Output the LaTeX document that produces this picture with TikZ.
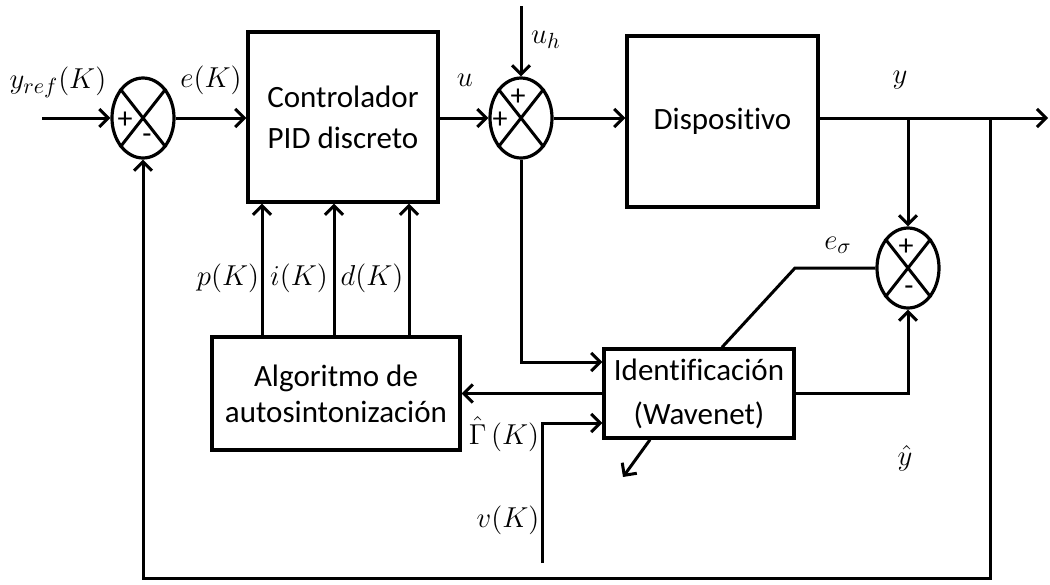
\documentclass[tikz,border=0pt]{standalone}
\usepackage{fontspec}
\setmainfont{Carlito}[Ligatures=NoCommon]
\usetikzlibrary{arrows.meta,shapes.geometric,calc}

\begin{document}
\begin{tikzpicture}[x=0.5pt,y=-0.5pt,
  line width=1.5pt,
  >={Straight Barb[length=4.5pt,width=9pt,line width=1.5pt]},
  blockbox/.style={draw,line width=1.7pt,rectangle,inner sep=0pt,align=center,
    font=\fontsize{15.5}{20.5}\selectfont},
  sumnode/.style={draw,ellipse,minimum width=31pt,minimum height=40pt,inner sep=0pt,line width=1.6pt},
  sig/.style={font=\fontsize{15}{15}\selectfont,inner sep=0pt},
  lab/.style={font=\fontsize{15}{17}\selectfont,inner sep=0pt}]
\useasboundingbox (0,0) rectangle (1050,584);

% blocks
\node[blockbox,minimum width=95pt,minimum height=85pt] (ctrl) at (343,117) {Controlador\\PID discreto};
\node[blockbox,minimum width=95.5pt,minimum height=85.5pt] (disp) at (722.5,121.5) {Dispositivo};
\node[blockbox,minimum width=95pt,minimum height=44.5pt,font=\fontsize{15.5}{22}\selectfont] (ident) at (699,393.5) {Identificación\\(Wavenet)};
\node[blockbox,minimum width=124pt,minimum height=56.5pt,font=\fontsize{15.5}{18}\selectfont] (algo) at (336,393.5) {Algoritmo de\\autosintonización};

% summing junctions
\node[sumnode] (j1) at (143,118) {};
\node[sumnode] (j2) at (521,118) {};
\node[sumnode] (j3) at (908,268) {};
\foreach \j in {j1,j2,j3}{
  \draw (\j.north west) -- (\j.south east);
  \draw (\j.north east) -- (\j.south west);
}

% junction signs
\node[sig] (s1a) at (125,120) {+};
\node[sig] (s1b) at (147,139) {-};
\node[sig] (s2a) at (518,97) {+};
\node[sig] (s2b) at (500,120) {+};
\node[sig] (s3a) at (906,247) {+};
\node[sig] (s3b) at (909,291) {-};

% free ends of connectors
\coordinate (src) at (42,118);
\coordinate (uh) at (521,6);
\coordinate (out) at (1048,118);
\coordinate (b1) at (908,118);
\coordinate (b2) at (990,118);
\coordinate (fb) at (143,578);
\coordinate (vk) at (542,563);
\coordinate (diag) at (623,477);
\coordinate (kink) at (795,268);
\coordinate (pc) at (262,300);
\coordinate (ic) at (334,300);
\coordinate (dc) at (409,300);

% main forward path
\draw[->] (src) -- (j1.west);
\draw[->] (j1.east) -- (j1.east -| ctrl.west);
\draw[->] (ctrl.east |- j2.west) -- (j2.west);
\draw[->] (uh) -- (j2.north);
\draw[->] (j2.east) -- (j2.east -| disp.west);
\draw[->] (disp.east |- j2.east) -- (out);

% output branches
\draw[->] (b1) -- (j3.north);
\draw[->] (b2) |- (fb) -- (j1.south);

% identification loop
\draw[->] (j2.south) |- ([yshift=15.75pt]ident.west);
\draw[->] (vk) |- ([yshift=-14.75pt]ident.west);
\draw[->] (ident.west) -- (ident.west -| algo.east);
\draw[->] ([xshift=-24.5pt]ident.south) -- (diag);
\draw[->] (ident.east) -| (j3.south);
\draw ([xshift=11.5pt]ident.north) -- (kink) -- (j3.west);

% tuned gains
\draw[->] (pc |- algo.north) -- (pc |- ctrl.south);
\draw[->] (ic |- algo.north) -- (ic |- ctrl.south);
\draw[->] (dc |- algo.north) -- (dc |- ctrl.south);

% signal labels
\node[lab] (lyref) at (58,82) {$y_{ref}(K)$};
\node[lab] (le) at (211,80) {$e(K)$};
\node[lab] (lu) at (465,80) {$u$};
\node[lab] (luh) at (546,40) {$u_h$};
\node[lab] (ly) at (900,80) {$y$};
\node[lab] (les) at (838,245) {$e_\sigma$};
\node[lab] (lyh) at (905,458) {$\hat{y}$};
\node[lab] (lgam) at (504,434) {$\hat{\Gamma}\,(K)$};
\node[lab] (lv) at (508,520) {$v(K)$};
\node[lab] (lp) at (228,278) {$p(K)$};
\node[lab] (li) at (299,278) {$i(K)$};
\node[lab] (ld) at (372,278) {$d(K)$};
\end{tikzpicture}
\end{document}
